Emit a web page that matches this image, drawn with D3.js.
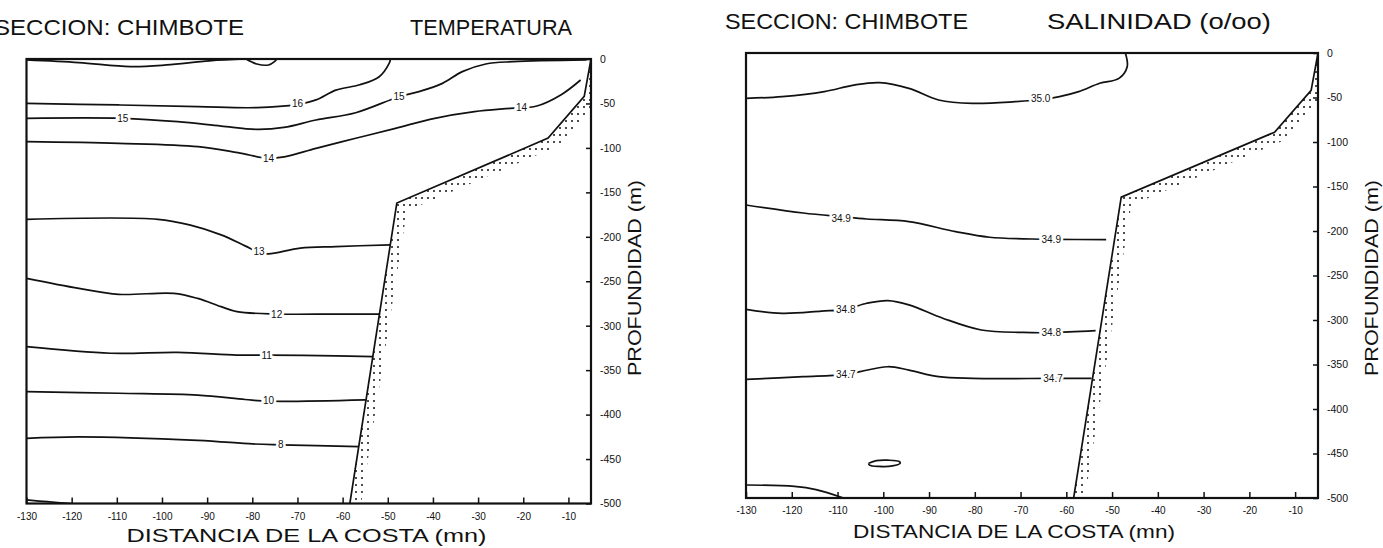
<!DOCTYPE html>
<html lang="es">
  <head>
    <meta charset="UTF-8" />
    <title>Seccion Chimbote</title>
    <script src="https://d3js.org/d3.v7.min.js"></script>
    <style>
      body { margin: 0; background: #fff; }
      text { font-family: "Liberation Sans", "DejaVu Sans", sans-serif; fill: #111; }
    </style>
  </head>
  <body></body>
  <script>
    // ejes comunes
    var depthTicks = [0, -50, -100, -150, -200, -250, -300, -350, -400, -450, -500];
    var distTicks = [-130, -120, -110, -100, -90, -80, -70, -60, -50, -40, -30, -20, -10];

    // perfil del fondo (mn, m)
    var bottomProfile = [[-5, 0], [-6.5, -42], [-14.5, -89], [-48, -162], [-58.4, -500]];

    // TEMPERATURA - isotermas
    var tSurface = [[-130, -1], [-118.4, -4], [-107, -8.5], [-99, -6.7], [-89.5, -2], [-81.6, 0]];
    var tDip = [[-81.4, 0], [-79, -5.6], [-76.4, -6.7], [-75.1, -3], [-74.6, 0]];
    var t16 = [[-130, -50], [-109.6, -51.7], [-92, -53.6], [-79, -54.7], [-70, -51], [-65.9, -46], [-61.5, -35], [-56.2, -29], [-51.9, -20], [-49.7, -5], [-49.4, 0]];
    var t15 = [[-130, -66.7], [-108.7, -66.7], [-96.5, -70.5], [-86.9, -75.4], [-79, -79.1], [-73, -77], [-65.9, -68.6], [-57.1, -60.4], [-47.5, -42.4], [-43.1, -36.7], [-37.9, -27.4], [-33.5, -14.2], [-28.3, -5.6], [-22.2, -3], [-6, -1]];
    var t14 = [[-130, -93], [-109.6, -94.9], [-92, -98.6], [-83.2, -105.4], [-76.4, -111.7], [-72.9, -110], [-65.9, -100.5], [-57.1, -89.2], [-48.3, -78], [-39.6, -66.7], [-30.8, -59.2], [-22.9, -55.5], [-17, -52.9], [-11.7, -40.5], [-7.3, -23.6]];
    var t13 = [[-130, -180.3], [-100.9, -180.3], [-93.9, -186.6], [-86.9, -197.8], [-81.6, -210.2], [-78.5, -217.5], [-76.4, -219.2], [-69.4, -212.8], [-61.5, -211], [-49.4, -209]];
    var t12 = [[-130, -246.7], [-118.4, -258], [-109.6, -264.7], [-97.4, -263.6], [-92.1, -269.3], [-86.9, -278.6], [-83.4, -284.2], [-74.6, -286.9], [-61.5, -286.9], [-51.7, -286.9]];
    var t11 = [[-130, -323.6], [-111.4, -331], [-96.5, -330], [-83.4, -333], [-76.8, -333], [-61.5, -334], [-53.2, -334.8]];
    var t10 = [[-130, -374.2], [-109.6, -376], [-92.1, -378], [-81.6, -383], [-76.4, -385], [-54.9, -383.5]];
    var t8 = [[-130, -426.7], [-118.4, -425], [-92.1, -429], [-79.9, -433], [-73.7, -434], [-56.4, -436]];
    var tDeep = [[-130, -496], [-125.4, -498], [-120.1, -500]];
    var tempLabels = [
      { v: "16", p: [-70, -50] }, { v: "15", p: [-108.7, -66.7] }, { v: "15", p: [-47.5, -42.4] },
      { v: "14", p: [-76.4, -111.7] }, { v: "14", p: [-20.4, -54.5] }, { v: "13", p: [-78.5, -217] },
      { v: "12", p: [-74.6, -286.9] }, { v: "11", p: [-76.8, -333] }, { v: "10", p: [-76.4, -384.5] },
      { v: "8", p: [-73.7, -434] }
    ];

    // SALINIDAD - isohalinas
    var s35 = [[-130, -51], [-122.1, -49], [-112.9, -43.4], [-106.4, -36], [-100.8, -33.3], [-94.4, -39.7], [-87.9, -52.8], [-80.5, -56.6], [-71.2, -54.7], [-65, -52], [-61.5, -49], [-57.3, -43.4], [-52.7, -34], [-48.5, -28.5], [-46.7, -15.4], [-47.1, 0]];
    var s349 = [[-130, -170.8], [-117.5, -179.8], [-109, -184], [-103.6, -186.5], [-94.4, -189.5], [-84.2, -200.7], [-76.8, -207], [-67.5, -209], [-63.3, -209.4], [-51.3, -209.6]];
    var s348 = [[-130, -288], [-122.1, -292.5], [-113.5, -290], [-108.2, -288], [-103.6, -281.2], [-99, -278.2], [-94.4, -283], [-87, -298], [-78.6, -311.2], [-69.4, -314], [-63.3, -314.2], [-53.6, -312]];
    var s347 = [[-130, -366.7], [-117.5, -363.7], [-108.2, -361], [-99, -352.5], [-94.4, -356.3], [-87.9, -363.7], [-80.5, -365.6], [-62.9, -365.6], [-54.5, -365.6]];
    var sEddy = [[-103.2, -461], [-101.5, -458], [-99, -457.5], [-96.5, -459], [-96.3, -461], [-98, -464], [-101, -464.5], [-103, -463], [-103.2, -461]];
    var sDeep = [[-130, -485.4], [-119.4, -487], [-114.7, -490.6], [-108.7, -500]];
    var salLabels = [
      { v: "35.0", p: [-65.6, -51] }, { v: "34.9", p: [-109.2, -185.5] }, { v: "34.9", p: [-63.3, -209.4] },
      { v: "34.8", p: [-108.2, -288] }, { v: "34.8", p: [-63.3, -314.2] },
      { v: "34.7", p: [-108.2, -361] }, { v: "34.7", p: [-62.9, -365.6] }
    ];

    var svg = d3.select("body").append("svg")
      .attr("width", 1383).attr("height", 548);

    // punteado del talud
    svg.append("defs").append("pattern")
      .attr("id", "dots")
      .attr("width", 6).attr("height", 7)
      .attr("patternUnits", "userSpaceOnUse")
      .append("circle")
      .attr("cx", 2).attr("cy", 2).attr("r", 1)
      .attr("fill", "#111");

    function drawPanel(cfg) {
      var x = d3.scaleLinear().domain([-130, -5]).range([cfg.left, cfg.right]);
      var y = d3.scaleLinear().domain([0, -500]).range([cfg.top, cfg.bottom]);
      var g = svg.append("g");

      g.append("clipPath").attr("id", cfg.id + "clip")
        .append("rect")
        .attr("x", cfg.left).attr("y", cfg.top)
        .attr("width", cfg.right - cfg.left).attr("height", cfg.bottom - cfg.top);

      var line = d3.line()
        .x(d => x(d[0])).y(d => y(d[1]))
        .curve(d3.curveCatmullRom.alpha(0.5));

      var inner = g.append("g").attr("clip-path", "url(#" + cfg.id + "clip)");

      // banda punteada bajo el perfil
      var px = bottomProfile.map(d => [x(d[0]), y(d[1])]);
      var band = px.concat(px.slice().reverse().map(d => [d[0] + 10, d[1] + 8]));
      inner.append("path")
        .attr("d", "M" + band.join("L") + "Z")
        .attr("fill", "url(#dots)");

      inner.selectAll("path.iso")
        .data(cfg.lines)
        .join("path")
        .attr("class", "iso")
        .attr("d", line)
        .attr("fill", "none")
        .attr("stroke", "#111")
        .attr("stroke-width", 1.7);

      inner.append("path")
        .attr("d", d3.line().x(d => x(d[0])).y(d => y(d[1]))(bottomProfile))
        .attr("fill", "none")
        .attr("stroke", "#111")
        .attr("stroke-width", 1.7);

      g.selectAll("text.lab")
        .data(cfg.labels)
        .join("text")
        .attr("class", "lab")
        .attr("x", d => x(d.p[0]))
        .attr("y", d => y(d.p[1]))
        .attr("dy", "0.35em")
        .attr("text-anchor", "middle")
        .attr("font-size", 10)
        .attr("stroke", "#fff")
        .attr("stroke-width", 5)
        .attr("paint-order", "stroke")
        .text(d => d.v);

      g.append("rect")
        .attr("x", cfg.left).attr("y", cfg.top)
        .attr("width", cfg.right - cfg.left).attr("height", cfg.bottom - cfg.top)
        .attr("fill", "none")
        .attr("stroke", "#111")
        .attr("stroke-width", 2.2);

      var fmt = d => d === 0 ? "0" : "-" + Math.abs(d);

      var ya = g.append("g")
        .attr("transform", "translate(" + cfg.right + ",0)")
        .call(d3.axisRight(y).tickValues(depthTicks).tickSize(-5).tickPadding(9).tickFormat(fmt));
      ya.select(".domain").remove();
      ya.selectAll("line").attr("stroke", "#111").attr("stroke-width", 1.5);
      ya.selectAll("text").attr("font-size", 10.5).attr("font-family", "DejaVu Sans");

      var xa = g.append("g")
        .attr("transform", "translate(0," + cfg.bottom + ")")
        .call(d3.axisBottom(x).tickValues(distTicks).tickSize(-6).tickPadding(9).tickFormat(fmt));
      xa.select(".domain").remove();
      xa.selectAll("line").attr("stroke", "#111").attr("stroke-width", 1.5);
      xa.selectAll("text").attr("font-size", 10).attr("font-family", "DejaVu Sans");

      g.append("text")
        .attr("x", cfg.left + cfg.xtitle[0]).attr("y", cfg.xtitle[1])
        .attr("font-size", 19)
        .attr("textLength", cfg.xtitle[2]).attr("lengthAdjust", "spacingAndGlyphs")
        .text("DISTANCIA  DE  LA  COSTA  (mn)");

      g.append("text")
        .attr("transform", "translate(" + (cfg.right + cfg.ytitle[0]) + "," + cfg.ytitle[1] + ") rotate(-90)")
        .attr("text-anchor", "middle")
        .attr("font-size", 18)
        .attr("textLength", 196).attr("lengthAdjust", "spacingAndGlyphs")
        .text("PROFUNDIDAD  (m)");

      cfg.titles.forEach(t => {
        g.append("text")
          .attr("x", t.x).attr("y", t.y)
          .attr("font-size", 22)
          .attr("textLength", t.w).attr("lengthAdjust", "spacingAndGlyphs")
          .text(t.s);
      });
    }

    drawPanel({
      id: "temp", left: 26.5, right: 591, top: 59, bottom: 503.5,
      lines: [tSurface, tDip, t16, t15, t14, t13, t12, t11, t10, t8, tDeep],
      labels: tempLabels,
      xtitle: [100, 542, 360], ytitle: [50, 278],
      titles: [
        { s: "SECCION:  CHIMBOTE", x: -6, y: 35, w: 250 },
        { s: "TEMPERATURA", x: 410, y: 35, w: 162 }
      ]
    });

    drawPanel({
      id: "sal", left: 746, right: 1318, top: 53, bottom: 498,
      lines: [s35, s349, s348, s347, sEddy, sDeep],
      labels: salLabels,
      xtitle: [107, 538, 322], ytitle: [60, 278],
      titles: [
        { s: "SECCION:  CHIMBOTE", x: 725, y: 29, w: 243 },
        { s: "SALINIDAD  (o/oo)", x: 1047, y: 29, w: 224 }
      ]
    });
  </script>
</html>
